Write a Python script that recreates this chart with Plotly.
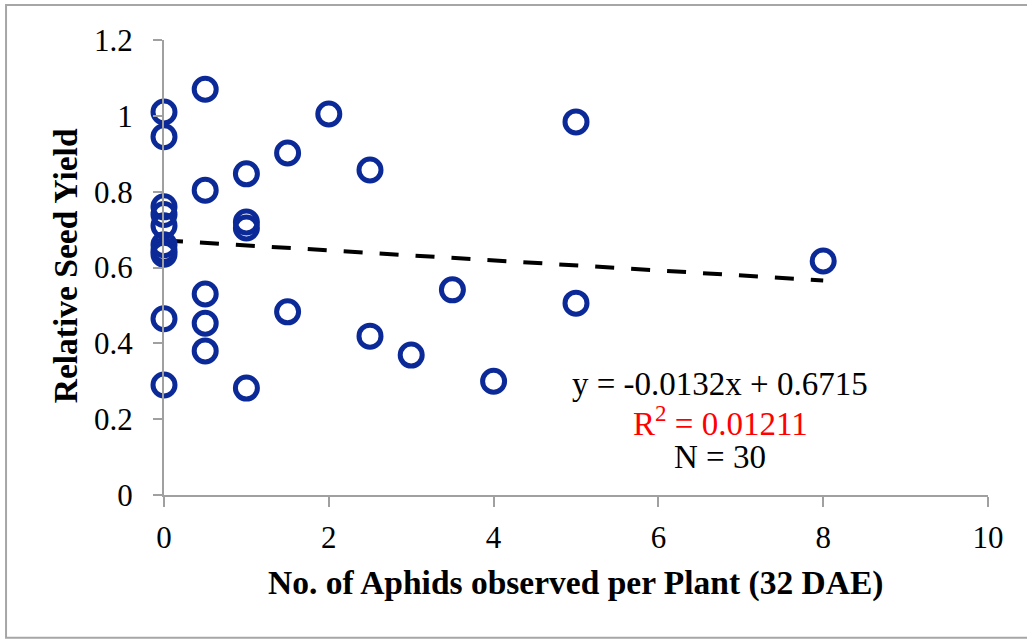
import plotly.graph_objects as go

# Aphid counts per plant (32 DAE) and relative seed yield for each plant
aphids = [0, 0, 0, 0, 0, 0, 0, 0, 0, 0,
          0.5, 0.5, 0.5, 0.5, 0.5,
          1, 1, 1, 1,
          1.5, 1.5,
          2,
          2.5, 2.5,
          3,
          3.5,
          4,
          5, 5,
          8]
seed_yield = [1.01, 0.945, 0.76, 0.74, 0.71, 0.66, 0.645, 0.635, 0.465, 0.29,
              1.07, 0.804, 0.53, 0.453, 0.38,
              0.847, 0.72, 0.704, 0.282,
              0.902, 0.483,
              1.005,
              0.857, 0.419,
              0.369,
              0.541,
              0.30,
              0.984, 0.506,
              0.617]

# Linear fit reported on the chart
slope = -0.0132
intercept = 0.6715
fit_x = [0, 8]
fit_y = [intercept + slope * v for v in fit_x]

x_ticks = [0, 2, 4, 6, 8, 10]
y_ticks = [0, 0.2, 0.4, 0.6, 0.8, 1.0, 1.2]
y_tick_text = ["0", "0.2", "0.4", "0.6", "0.8", "1", "1.2"]

SERIF = "Liberation Serif"
AXIS_GREY = "#a0a0a0"

fig = go.Figure()

fig.add_trace(go.Scatter(
    x=fit_x, y=fit_y, mode="lines",
    line=dict(color="black", width=4, dash="19px,17px"),
    hoverinfo="skip", showlegend=False,
))

fig.add_trace(go.Scatter(
    x=aphids, y=seed_yield, mode="markers",
    marker=dict(symbol="circle-open", size=22, color="#0b2a97",
                line=dict(width=5, color="#0b2a97")),
    cliponaxis=False, showlegend=False,
))

fig.update_layout(
    width=1027, height=639,
    margin=dict(l=164, r=39, t=40, b=144),
    paper_bgcolor="white", plot_bgcolor="white",
    font=dict(family=SERIF, size=31, color="black"),
    xaxis=dict(
        range=[0, 10], tickvals=x_ticks, ticktext=[str(v) for v in x_ticks],
        showgrid=False, zeroline=False,
        showline=True, linecolor=AXIS_GREY, linewidth=2,
        ticks="outside", ticklen=10, tickwidth=2, tickcolor=AXIS_GREY,
        tickfont=dict(family=SERIF, size=31), ticklabelstandoff=4,
    ),
    yaxis=dict(
        range=[0, 1.2], tickvals=y_ticks, ticktext=y_tick_text,
        showgrid=False, zeroline=False,
        showline=True, linecolor=AXIS_GREY, linewidth=2,
        ticks="outside", ticklen=9, tickwidth=2, tickcolor=AXIS_GREY,
        tickfont=dict(family=SERIF, size=31), ticklabelstandoff=14,
    ),
    shapes=[dict(
        type="rect", xref="paper", yref="paper",
        x0=-0.1917, x1=1.1, y0=-0.314, y1=1.077,
        line=dict(color="#a6a6a6", width=2), layer="below",
    )],
    annotations=[
        # axis titles
        dict(x=0.499, y=-0.193, xref="paper", yref="paper", showarrow=False,
             text="<b>No. of Aphids observed per Plant (32 DAE)</b>",
             xanchor="center", yanchor="middle",
             font=dict(family=SERIF, size=33.5, color="black")),
        dict(x=-0.120, y=0.503, xref="paper", yref="paper", showarrow=False,
             text="<b>Relative Seed Yield</b>", textangle=-90,
             xanchor="center", yanchor="middle",
             font=dict(family=SERIF, size=33.5, color="black")),
        # regression summary
        dict(x=6.75, y=0.293, xref="x", yref="y", showarrow=False,
             text="y = -0.0132x + 0.6715",
             font=dict(family=SERIF, size=33, color="black")),
        dict(x=6.75, y=0.195, xref="x", yref="y", showarrow=False,
             text="R<sup>2</sup> = 0.01211",
             font=dict(family=SERIF, size=33, color="#ff0000")),
        dict(x=6.75, y=0.100, xref="x", yref="y", showarrow=False,
             text="N = 30",
             font=dict(family=SERIF, size=33, color="black")),
    ],
)

fig.write_html("out.html")
